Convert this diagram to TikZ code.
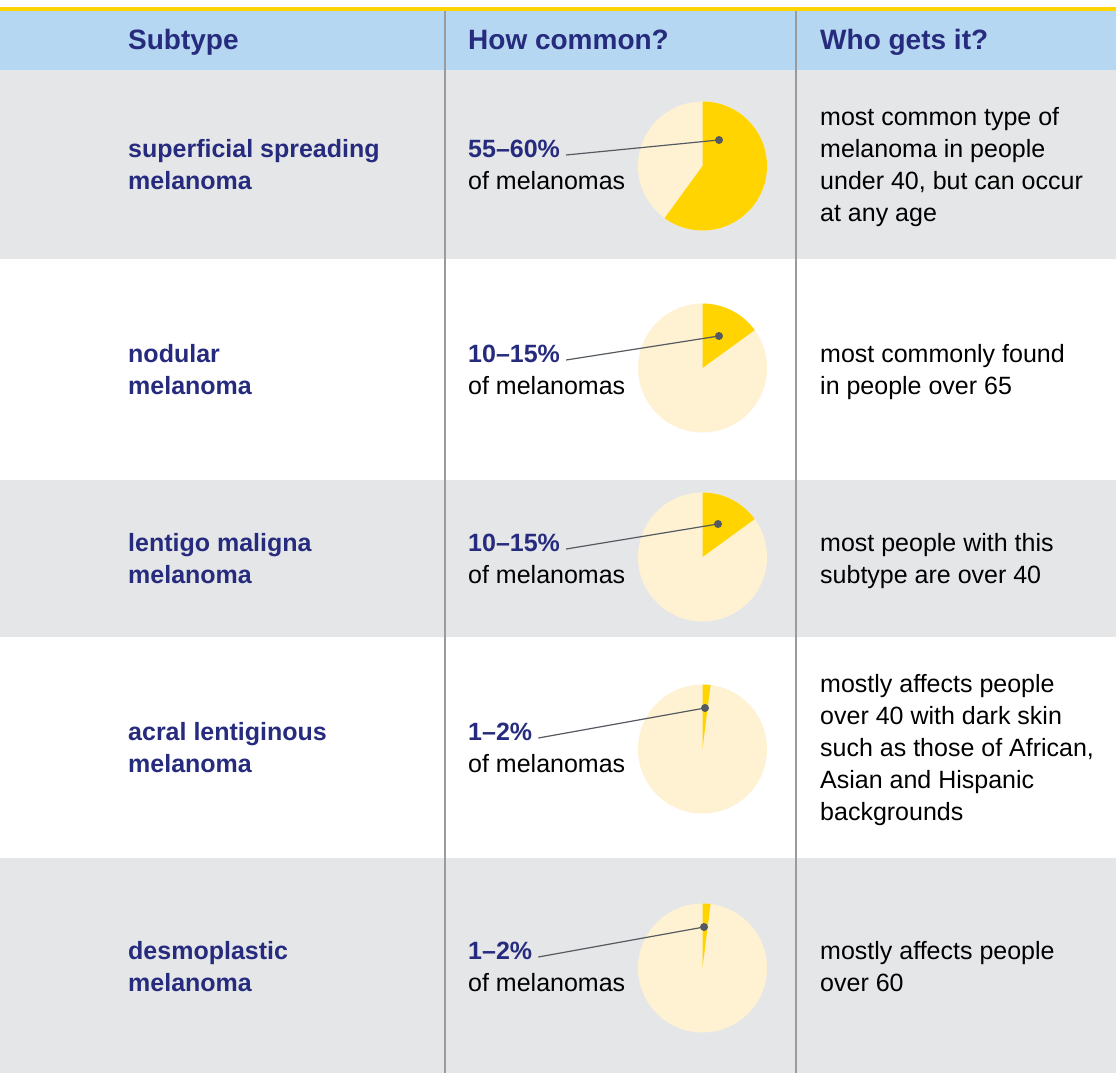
\documentclass[tikz,border=0pt]{standalone}
\usepackage{fontspec}
\setmainfont{Liberation Sans}
\usetikzlibrary{positioning}
\definecolor{navy}{HTML}{262B7E}
\definecolor{headblue}{HTML}{B5D7F1}
\definecolor{rowgrey}{HTML}{E5E6E8}
\definecolor{sun}{HTML}{FFD400}
\definecolor{palesun}{HTML}{FFF2D3}
\definecolor{rulegrey}{HTML}{9B9B9B}
\definecolor{pointer}{HTML}{555A60}
\tikzset{
    head/.style={anchor=base west, inner sep=0pt, text=navy, font=\fontsize{28}{34}\selectfont\bfseries},
    subtype/.style={anchor=base west, inner sep=0pt, align=left, text=navy, font=\fontsize{25}{32}\selectfont\bfseries},
    share/.style={subtype},
    plain/.style={anchor=base west, inner sep=0pt, align=left, text=black, font=\fontsize{25}{32}\selectfont},
    pointer line/.style={draw=pointer, line width=1.2pt},
}
\begin{document}
\begin{tikzpicture}[x=1pt, y=-1pt]
        \useasboundingbox (0,0) rectangle (1116,1073);
        \fill[white] (0,0) rectangle (1116,1073);
        \fill[sun] (0,7) rectangle (1116,11);
        \fill[headblue] (0,11) rectangle (1116,70);
        \foreach \top/\bot in {70/259, 480/637, 858/1073}
            \fill[rowgrey] (0,\top) rectangle (1116,\bot);
        \draw[rulegrey, line width=1.5pt] (445,11) -- (445,1073) (796,11) -- (796,1073);

        \node[head] (hsub) at (128,50) {Subtype};
        \node[head] (hhow) at (468,50) {How common?};
        \node[head] (hwho) at (820,50) {Who gets it?};

        \foreach \cy/\part in {166/0.60, 368/0.15, 557/0.15, 749/0.02, 968/0.02} {
            \fill[palesun] (702.5,\cy) circle[radius=64.5pt];
            \fill[sun] (702.5,\cy) -- ++(0,-64.5) arc[start angle=90, delta angle={-360*\part}, radius=64.5pt] -- cycle;
        }

        % multi-line nodes sit on the baseline of their last line
        \node[subtype] (s1) at (128,189) {superficial spreading\\melanoma};
        \node[share] (p1) at (468,157) {55–60\%};
        \node[plain, below=32pt of p1.base west, anchor=base west] (o1) {of melanomas};
        \node[plain] (w1) at (820,221) {most common type of\\melanoma in people\\under 40, but can occur\\at any age};

        \node[subtype] (s2) at (128,394) {nodular\\melanoma};
        \node[share] (p2) at (468,362) {10–15\%};
        \node[plain, below=32pt of p2.base west, anchor=base west] (o2) {of melanomas};
        \node[plain] (w2) at (820,394) {most commonly found\\in people over 65};

        \node[subtype] (s3) at (128,583) {lentigo maligna\\melanoma};
        \node[share] (p3) at (468,551) {10–15\%};
        \node[plain, below=32pt of p3.base west, anchor=base west] (o3) {of melanomas};
        \node[plain] (w3) at (820,583) {most people with this\\subtype are over 40};

        \node[subtype] (s4) at (128,772) {acral lentiginous\\melanoma};
        \node[share] (p4) at (468,740) {1–2\%};
        \node[plain, below=32pt of p4.base west, anchor=base west] (o4) {of melanomas};
        \node[plain] (w4) at (820,820) {mostly affects people\\over 40 with dark skin\\such as those of African,\\Asian and Hispanic\\backgrounds};

        \node[subtype] (s5) at (128,991) {desmoplastic\\melanoma};
        \node[share] (p5) at (468,959) {1–2\%};
        \node[plain, below=32pt of p5.base west, anchor=base west] (o5) {of melanomas};
        \node[plain] (w5) at (820,991) {mostly affects people\\over 60};

        \coordinate (d1) at (719,140);
        \coordinate (d2) at (719,336);
        \coordinate (d3) at (718,524);
        \coordinate (d4) at (705,708);
        \coordinate (d5) at (704,927);
        \foreach \n in {1,...,5} {
            \draw[pointer line] ([shift={(6pt,2pt)}]p\n.base east) -- (d\n);
            \fill[pointer] (d\n) circle[radius=4pt];
        }
\end{tikzpicture}
\end{document}
